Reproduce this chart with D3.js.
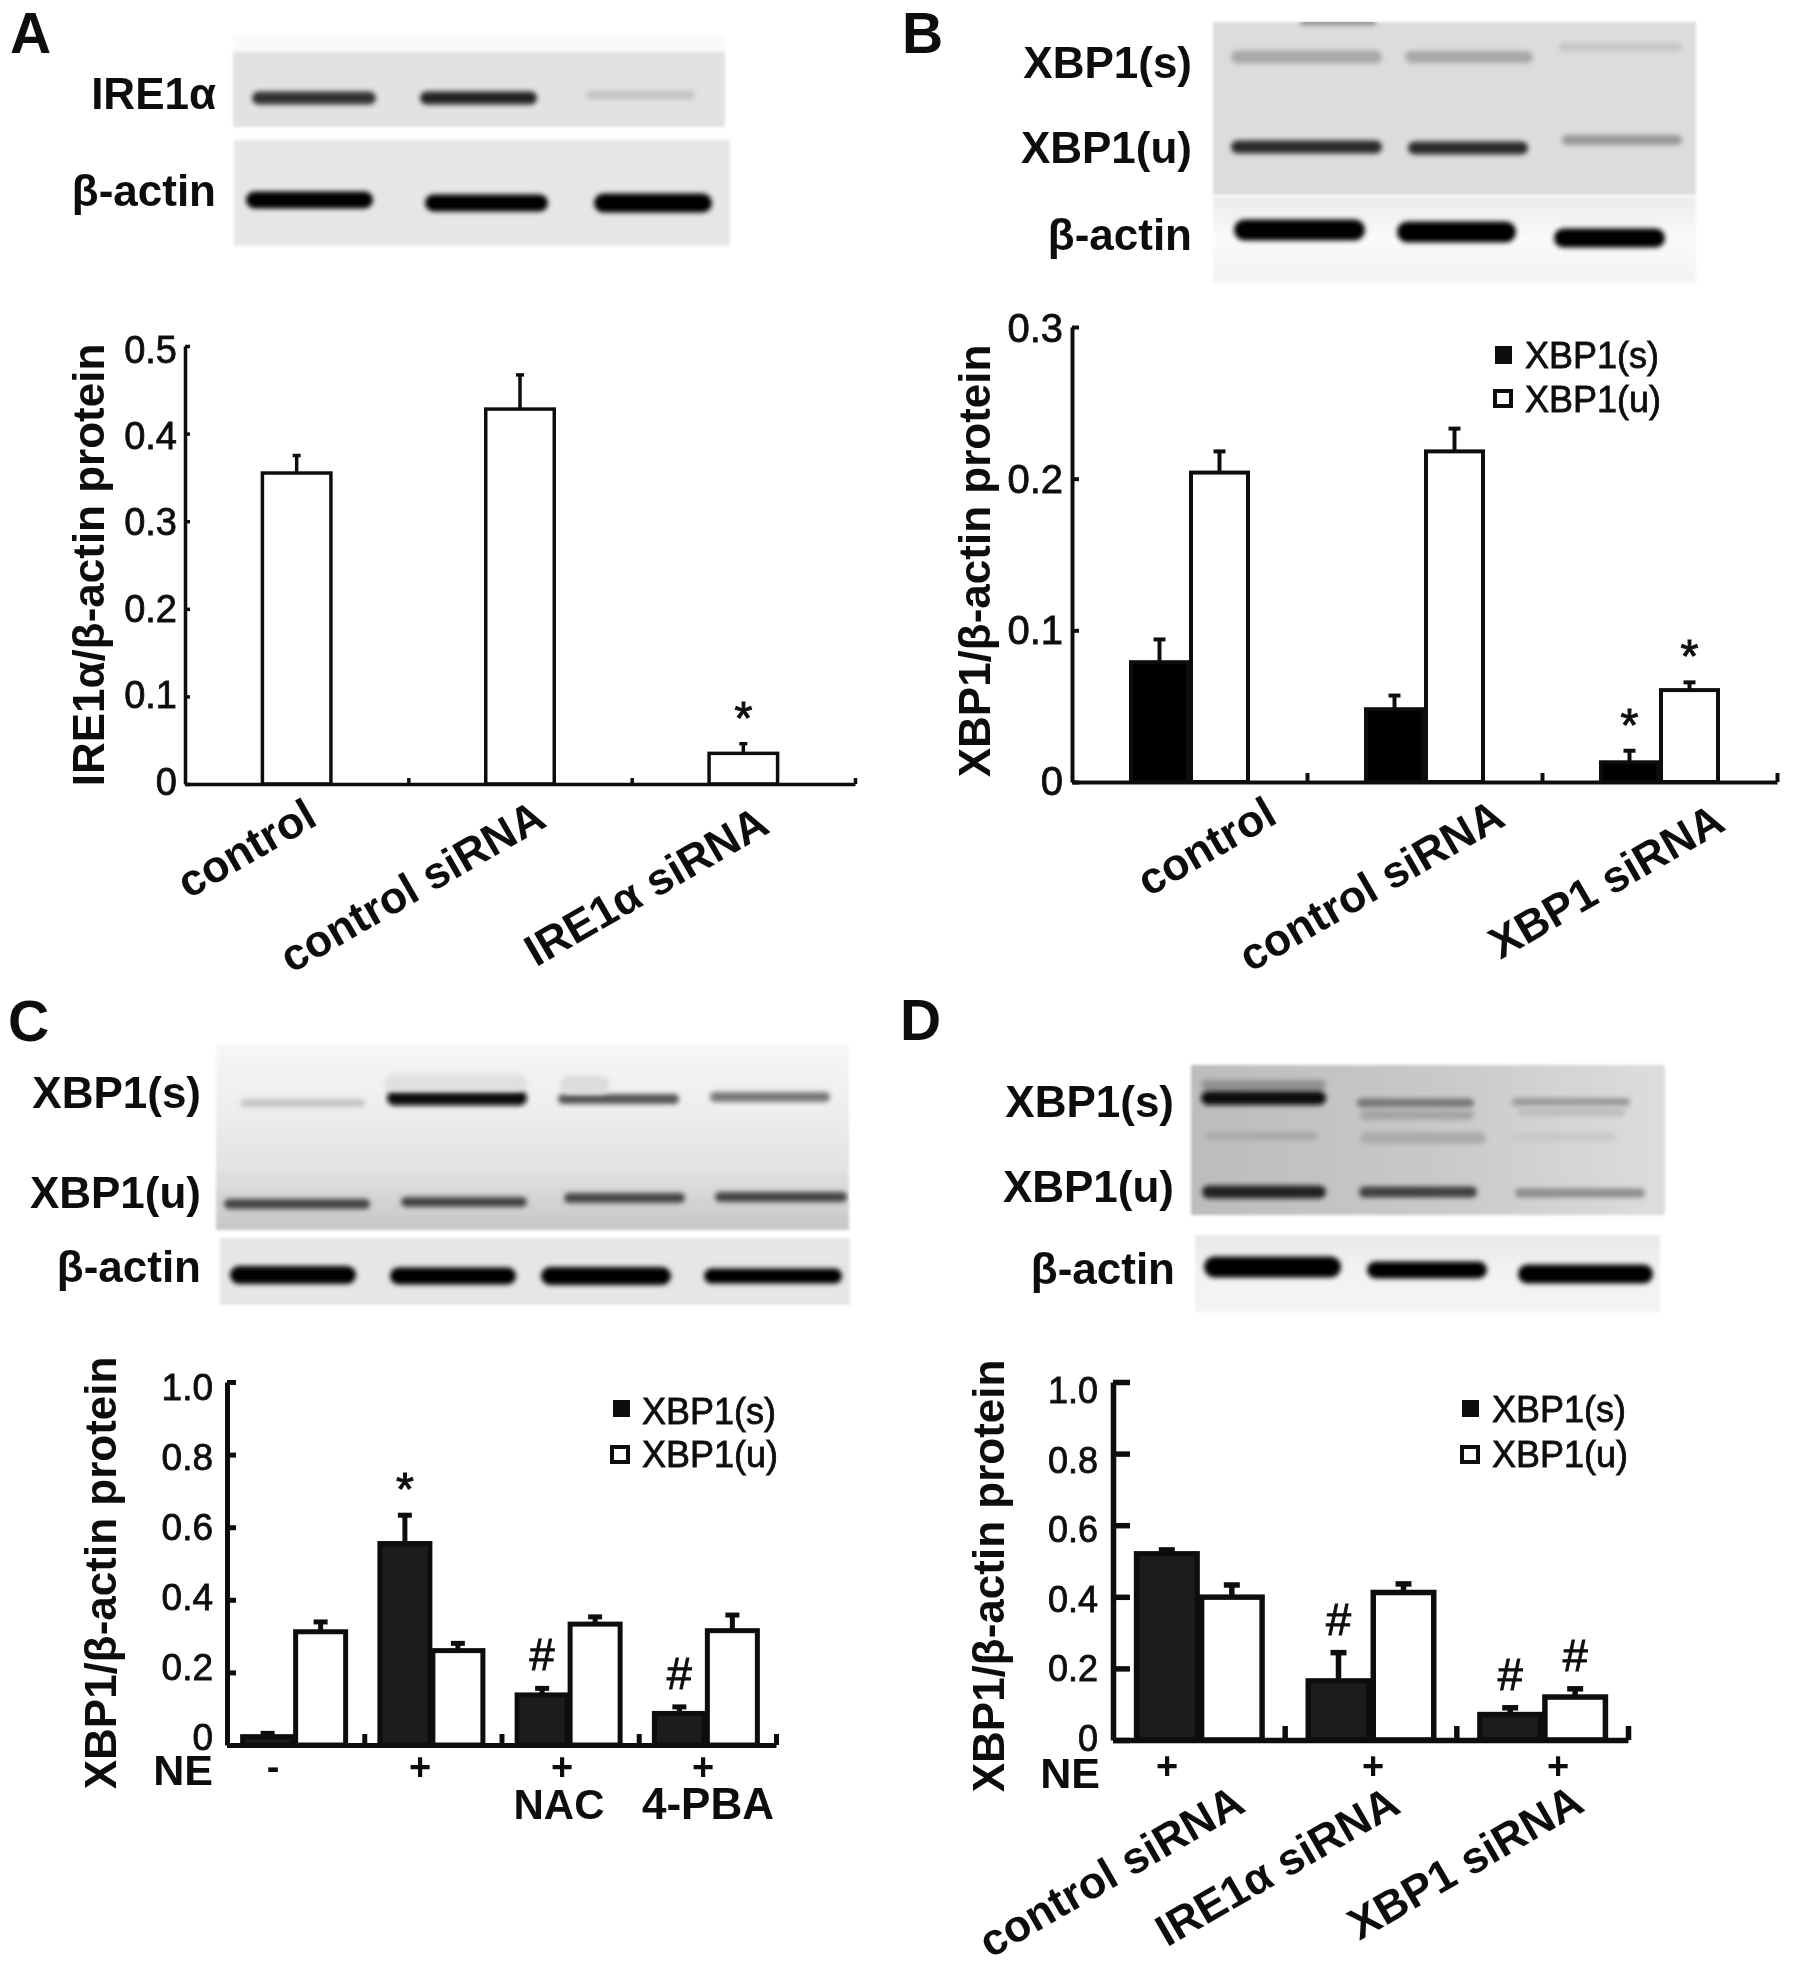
<!DOCTYPE html>
<html>
<head>
<meta charset="utf-8">
<title>XBP1 western blots</title>
<script src="https://cdn.jsdelivr.net/npm/d3@7"></script>
<style>
    html, body { margin: 0; padding: 0; background: #fff; }
    svg { display: block; }
    text { font-family: "Liberation Sans", Arial, sans-serif; fill: #111; }
</style>
</head>
<body>
<div id="chart"></div>
<script>
// Data
const categoriesA = ['control', 'control siRNA', 'IRE1α siRNA'];
const valuesA = [0.355, 0.428, 0.035];
const errorTopsA = [0.375, 0.467, 0.046];
const marksA = ['', '', '*'];
const tickValuesA = [0, 0.1, 0.2, 0.3, 0.4, 0.5];
const tickLabelsA = ['0', '0.1', '0.2', '0.3', '0.4', '0.5'];

const categoriesB = ['control', 'control siRNA', 'XBP1 siRNA'];
const spliceB = [0.079, 0.048, 0.013];
const spliceErrorTopsB = [0.094, 0.057, 0.0206];
const spliceMarksB = ['', '', '*'];
const unsplicedB = [0.204, 0.218, 0.0606];
const unsplicedErrorTopsB = [0.218, 0.233, 0.0657];
const unsplicedMarksB = ['', '', '*'];
const tickValuesB = [0, 0.1, 0.2, 0.3];
const tickLabelsB = ['0', '0.1', '0.2', '0.3'];

const categoriesC = ['-', '+', '+ NAC', '+ 4-PBA'];
const spliceC = [0.023, 0.555, 0.138, 0.087];
const spliceErrorTopsC = [0.032, 0.633, 0.156, 0.105];
const spliceMarksC = ['', '*', '#', '#'];
const unsplicedC = [0.312, 0.26, 0.333, 0.315];
const unsplicedErrorTopsC = [0.339, 0.28, 0.353, 0.358];
const unsplicedMarksC = ['', '', '', ''];

const categoriesD = ['control siRNA', 'IRE1α siRNA', 'XBP1 siRNA'];
const spliceD = [0.52, 0.165, 0.071];
const spliceErrorTopsD = [0.531, 0.244, 0.09];
const spliceMarksD = ['', '#', '#'];
const unsplicedD = [0.399, 0.412, 0.12];
const unsplicedErrorTopsD = [0.433, 0.436, 0.143];
const unsplicedMarksD = ['', '', '#'];
const tickValuesCD = [0, 0.2, 0.4, 0.6, 0.8, 1];
const tickLabelsCD = ['0', '0.2', '0.4', '0.6', '0.8', '1.0'];

const seriesNames = ['XBP1(s)', 'XBP1(u)'];

const svg = d3.select('#chart').append('svg')
    .attr('width', 1795)
    .attr('height', 1970);

const defs = svg.append('defs');
defs.append('filter').attr('id', 'soft')
    .attr('filterUnits', 'userSpaceOnUse')
    .attr('x', 0).attr('y', 0).attr('width', 1795).attr('height', 1970)
    .append('feGaussianBlur').attr('stdDeviation', 0.7);
defs.append('filter').attr('id', 'bandBlur')
    .attr('x', '-20%').attr('y', '-200%').attr('width', '140%').attr('height', '500%')
    .append('feGaussianBlur').attr('stdDeviation', 2.6);
defs.append('filter').attr('id', 'edgeBlur')
    .attr('x', '-5%').attr('y', '-20%').attr('width', '110%').attr('height', '140%')
    .append('feGaussianBlur').attr('stdDeviation', 1.5);

// top to bottom background of a blot
function addGradient(id, stops, horizontal) {
    const g = defs.append('linearGradient').attr('id', id)
        .attr('x1', 0).attr('y1', 0)
        .attr('x2', horizontal ? 1 : 0).attr('y2', horizontal ? 0 : 1);
    stops.forEach((c, i) => g.append('stop')
        .attr('offset', i / (stops.length - 1))
        .attr('stop-color', c));
}
addGradient('blotB2', ['#ececec', '#fafafa', '#f2f2f2']);
addGradient('blotC1', ['#f6f6f6', '#eeeeee', '#e2e2e2', '#c6c6c6']);
addGradient('blotD1', ['#bcbcbc', '#c8c8c8', '#dddddd'], true);
addGradient('blotD2', ['#e8e8e8', '#f3f3f3', '#f3f3f3']);

const root = svg.append('g').attr('filter', 'url(#soft)');

let clipCount = 0;
function drawBlot(blot) {
    clipCount += 1;
    const clipId = 'blotClip' + clipCount;
    defs.append('clipPath').attr('id', clipId)
        .append('rect')
        .attr('x', blot.x0).attr('y', blot.y0)
        .attr('width', blot.x1 - blot.x0).attr('height', blot.y1 - blot.y0);

    root.append('rect')
        .attr('x', blot.x0).attr('y', blot.y0)
        .attr('width', blot.x1 - blot.x0).attr('height', blot.y1 - blot.y0)
        .attr('fill', blot.fill)
        .attr('filter', 'url(#edgeBlur)');

    // the blur eats into a band, so it is drawn a bit thicker than it looks
    root.append('g').attr('clip-path', `url(#${clipId})`)
        .selectAll('rect')
        .data(blot.bands)
        .join('rect')
        .attr('x', d => d[0])
        .attr('width', d => d[1] - d[0])
        .attr('y', d => d[2] - (d[3] + 4) / 2)
        .attr('height', d => d[3] + 4)
        .attr('rx', d => (d[3] + 4) / 2)
        .attr('fill', d => d[4])
        .attr('filter', 'url(#bandBlur)');
}

function drawText(str, x, y, size, weight, anchor) {
    return root.append('text')
        .attr('x', x).attr('y', y)
        .attr('font-size', size)
        .attr('font-weight', weight || 'normal')
        .attr('text-anchor', anchor || 'start')
        .text(str);
}

function drawPanel(p) {
    const yScale = d3.scaleLinear().domain(p.domain).range([p.y0, p.yTop]);
    const labelY = d3.scaleLinear().domain(p.domain).range([p.label0, p.labelTop]);
    const xScale = d3.scaleBand().domain(p.categories).range([p.x0, p.x1]);
    const slot = d3.scaleLinear().domain([0, p.categories.length]).range([p.x0, p.x1]);

    // bars and error bars, one loop per series
    p.series.forEach((s, si) => {
        const barX = c => xScale(c) + xScale.bandwidth() / 2 + p.barOffsets[si];
        const g = root.append('g');
        const rows = p.categories.map((c, i) => ({
            c: c, v: s.values[i], top: s.tops[i], mark: s.marks[i]
        }));

        g.selectAll('.err').data(rows).join('line')
            .attr('x1', d => barX(d.c)).attr('x2', d => barX(d.c))
            .attr('y1', d => yScale(d.v)).attr('y2', d => yScale(d.top))
            .attr('stroke', '#111').attr('stroke-width', p.stroke);
        g.selectAll('.cap').data(rows).join('line')
            .attr('x1', d => barX(d.c) - p.cap / 2).attr('x2', d => barX(d.c) + p.cap / 2)
            .attr('y1', d => yScale(d.top)).attr('y2', d => yScale(d.top))
            .attr('stroke', '#111').attr('stroke-width', p.stroke);
        g.selectAll('.bar').data(rows).join('rect')
            .attr('x', d => barX(d.c) - (p.barWidth - p.stroke) / 2)
            .attr('width', p.barWidth - p.stroke)
            .attr('y', d => yScale(d.v))
            .attr('height', d => yScale(0) - yScale(d.v))
            .attr('fill', s.fill)
            .attr('stroke', '#111')
            .attr('stroke-width', p.stroke);

        rows.filter(d => d.mark).forEach(d => {
            const isStar = d.mark === '*';
            drawText(d.mark, barX(d.c), yScale(d.top) - 30 + (isStar ? 20 : 12), isStar ? 46 : 45, 'normal', 'middle')
                .attr('stroke', '#111').attr('stroke-width', 1);
        });
    });

    // y axis
    const yAxis = root.append('g')
        .attr('transform', `translate(${p.x0},0)`)
        .call(d3.axisLeft(yScale)
            .tickValues(p.tickValues)
            .tickSizeInner(-p.tickLength)
            .tickSizeOuter(0)
            .tickFormat(''));
    yAxis.selectAll('path, line').attr('stroke', '#111').attr('stroke-width', p.stroke);

    root.append('g').selectAll('text')
        .data(p.tickValues)
        .join('text')
        .attr('x', p.labelRight)
        .attr('y', d => labelY(d))
        .attr('dy', '0.36em')
        .attr('text-anchor', 'end')
        .attr('font-size', p.tickFont)
        .attr('stroke', '#111').attr('stroke-width', 0.8)
        .text((d, i) => p.tickLabels[i]);

    // x axis with ticks between the groups
    const xAxis = root.append('g')
        .attr('transform', `translate(0,${p.y0})`)
        .call(d3.axisBottom(slot)
            .tickValues(d3.range(1, p.categories.length + 1))
            .tickSizeInner(-p.xTickLength)
            .tickSizeOuter(0)
            .tickFormat(''));
    xAxis.selectAll('path, line').attr('stroke', '#111').attr('stroke-width', p.stroke);

    // y title
    root.append('text')
        .attr('transform', `translate(${p.titleX},${p.titleY}) rotate(-90)`)
        .attr('text-anchor', 'middle')
        .attr('font-size', 44)
        .attr('font-weight', 'bold')
        .text(p.title);

    // slanted category names
    if (p.slanted) {
        p.slanted.forEach((pos, i) => {
            root.append('text')
                .attr('transform', `translate(${pos[0]},${pos[1]}) rotate(-30)`)
                .attr('text-anchor', 'middle')
                .attr('dy', '0.35em')
                .attr('font-size', 44.5)
                .attr('font-weight', 'bold')
                .text(p.categories[i]);
        });
    }

    // legend
    if (p.legend) {
        const l = p.legend;
        root.append('rect')
            .attr('x', l.solid[0]).attr('y', l.solid[1])
            .attr('width', l.solid[2]).attr('height', l.solid[3])
            .attr('fill', '#111');
        root.append('rect')
            .attr('x', l.open[0] + 2).attr('y', l.open[1] + 2)
            .attr('width', l.open[2] - 4).attr('height', l.open[3] - 4)
            .attr('fill', '#fff')
            .attr('stroke', '#111')
            .attr('stroke-width', 4);
        seriesNames.forEach((name, i) => {
            drawText(name, l.textX, l.textY[i], 36, 'normal')
                .attr('dy', '0.36em')
                .attr('stroke', '#111').attr('stroke-width', 0.8);
        });
    }
}

// Panel A
drawBlot({ x0: 233, x1: 725, y0: 34, y1: 54, fill: '#fafafa', bands: [] });
drawBlot({
    x0: 233, x1: 725, y0: 52, y1: 127, fill: '#e2e2e2',
    bands: [[252, 376, 98, 9, '#333'], [420, 537, 98, 9, '#222'], [586, 695, 95, 5, '#c4c4c4']]
});
drawBlot({
    x0: 234, x1: 730, y0: 140, y1: 246, fill: '#e6e6e6',
    bands: [[246, 373, 200, 13, '#000'], [425, 548, 203, 13, '#000'], [594, 712, 203, 15, '#000']]
});
drawText('IRE1α', 216, 109, 44, 'bold', 'end');
drawText('β-actin', 216, 206, 44, 'bold', 'end');
drawText('A', 10, 53, 57, 'bold');

drawPanel({
    categories: categoriesA,
    series: [{ values: valuesA, tops: errorTopsA, marks: marksA, fill: '#fff' }],
    barOffsets: [0], barWidth: 72, cap: 8, stroke: 3.5,
    domain: [0, 0.5], x0: 185, x1: 855, y0: 784, yTop: 346,
    tickValues: tickValuesA, tickLabels: tickLabelsA, tickLength: 5, xTickLength: 6,
    tickFont: 38, labelRight: 177, label0: 781, labelTop: 349,
    title: 'IRE1α/β-actin protein', titleX: 104, titleY: 565,
    slanted: [[246, 848], [412, 886], [646, 886]]
});

// Panel B
drawBlot({
    x0: 1213, x1: 1696, y0: 22, y1: 195, fill: '#dcdcdc',
    bands: [[1231, 1382, 57, 9, '#a8a8a8'], [1405, 1533, 57, 8, '#a8a8a8'], [1559, 1682, 47, 5, '#c6c6c6'],
        [1231, 1382, 147, 9, '#2a2a2a'], [1408, 1528, 148, 9, '#2a2a2a'], [1562, 1682, 140, 6, '#989898'],
        [1300, 1376, 22, 2, '#888']]
});
drawBlot({
    x0: 1213, x1: 1696, y0: 197, y1: 283, fill: 'url(#blotB2)',
    bands: [[1234, 1365, 230, 17, '#000'], [1397, 1516, 232, 17, '#000'], [1554, 1665, 238, 15, '#000']]
});
drawText('XBP1(s)', 1192, 78, 44, 'bold', 'end');
drawText('XBP1(u)', 1192, 163, 44, 'bold', 'end');
drawText('β-actin', 1192, 250, 44, 'bold', 'end');
drawText('B', 902, 53, 57, 'bold');

drawPanel({
    categories: categoriesB,
    series: [
        { values: spliceB, tops: spliceErrorTopsB, marks: spliceMarksB, fill: '#000' },
        { values: unsplicedB, tops: unsplicedErrorTopsB, marks: unsplicedMarksB, fill: '#fff' }
    ],
    barOffsets: [-30, 30], barWidth: 61, cap: 12, stroke: 4,
    domain: [0, 0.3], x0: 1072, x1: 1777, y0: 782, yTop: 327,
    tickValues: tickValuesB, tickLabels: tickLabelsB, tickLength: 7, xTickLength: 9,
    tickFont: 40, labelRight: 1063, label0: 781, labelTop: 328,
    title: 'XBP1/β-actin protein', titleX: 990, titleY: 561,
    slanted: [[1206, 846], [1371, 885], [1606, 881]],
    legend: { solid: [1495, 346, 17, 18], open: [1493, 389, 20, 19], textX: 1525, textY: [355, 399] }
});

// Panel C
drawBlot({
    x0: 216, x1: 849, y0: 1045, y1: 1230, fill: 'url(#blotC1)',
    bands: [[241, 365, 1103, 4, '#c4c4c4'], [387, 527, 1098, 11, '#0a0a0a'], [558, 679, 1099, 6, '#555'], [710, 830, 1097, 6, '#777'],
        [224, 370, 1204, 6, '#444'], [401, 527, 1202, 6, '#444'], [564, 685, 1198, 6, '#444'], [715, 847, 1197, 6, '#444'],
        [385, 527, 1083, 14, '#e0e0e0'], [560, 610, 1085, 14, '#dcdcdc']]
});
drawBlot({
    x0: 220, x1: 850, y0: 1238, y1: 1305, fill: '#e6e6e6',
    bands: [[230, 356, 1275, 14, '#000'], [390, 516, 1276, 13, '#000'], [541, 671, 1276, 14, '#000'], [704, 842, 1276, 11, '#000']]
});
drawText('XBP1(s)', 201, 1108, 44, 'bold', 'end');
drawText('XBP1(u)', 201, 1208, 44, 'bold', 'end');
drawText('β-actin', 201, 1282, 44, 'bold', 'end');
drawText('C', 8, 1041, 57, 'bold');

drawPanel({
    categories: categoriesC,
    series: [
        { values: spliceC, tops: spliceErrorTopsC, marks: spliceMarksC, fill: '#1a1a1a' },
        { values: unsplicedC, tops: unsplicedErrorTopsC, marks: unsplicedMarksC, fill: '#fff' }
    ],
    barOffsets: [-28, 25], barWidth: 55, cap: 14, stroke: 5,
    domain: [0, 1], x0: 227, x1: 776, y0: 1745, yTop: 1382,
    tickValues: tickValuesCD, tickLabels: tickLabelsCD, tickLength: 9, xTickLength: 11,
    tickFont: 37, labelRight: 213, label0: 1737, labelTop: 1387,
    title: 'XBP1/β-actin protein', titleX: 116, titleY: 1573,
    legend: { solid: [613, 1400, 17, 17], open: [610, 1445, 20, 19], textX: 642, textY: [1411, 1454] }
});
drawText('NE', 213, 1785, 43, 'bold', 'end');
drawText('-', 273, 1780, 38, 'bold', 'middle');
drawText('+', 420, 1780, 38, 'bold', 'middle');
drawText('+', 562, 1780, 38, 'bold', 'middle');
drawText('+', 703, 1780, 38, 'bold', 'middle');
drawText('NAC', 559, 1819, 42, 'bold', 'middle');
drawText('4-PBA', 708, 1819, 44, 'bold', 'middle');

// Panel D
drawBlot({
    x0: 1191, x1: 1665, y0: 1065, y1: 1215, fill: 'url(#blotD1)',
    bands: [[1201, 1326, 1085, 6, '#909090'], [1201, 1326, 1098, 10, '#0a0a0a'],
        [1357, 1474, 1103, 5, '#777'], [1360, 1474, 1115, 6, '#a4a4a4'],
        [1512, 1630, 1102, 4, '#999'], [1518, 1625, 1112, 4, '#bcbcbc'],
        [1206, 1318, 1136, 4, '#a8a8a8'], [1360, 1486, 1138, 8, '#acacac'], [1510, 1615, 1137, 4, '#c8c8c8'],
        [1202, 1326, 1192, 9, '#202020'], [1359, 1477, 1192, 7, '#404040'], [1515, 1645, 1193, 5, '#8c8c8c']]
});
drawBlot({
    x0: 1195, x1: 1660, y0: 1235, y1: 1312, fill: 'url(#blotD2)',
    bands: [[1204, 1341, 1267, 17, '#000'], [1367, 1487, 1270, 13, '#000'], [1518, 1653, 1274, 15, '#000']]
});
drawText('XBP1(s)', 1174, 1117, 44, 'bold', 'end');
drawText('XBP1(u)', 1174, 1202, 44, 'bold', 'end');
drawText('β-actin', 1175, 1284, 44, 'bold', 'end');
drawText('D', 900, 1040, 57, 'bold');

drawPanel({
    categories: categoriesD,
    series: [
        { values: spliceD, tops: spliceErrorTopsD, marks: spliceMarksD, fill: '#1a1a1a' },
        { values: unsplicedD, tops: unsplicedErrorTopsD, marks: unsplicedMarksD, fill: '#fff' }
    ],
    barOffsets: [-32, 33], barWidth: 66, cap: 16, stroke: 5.5,
    domain: [0, 1], x0: 1113, x1: 1628, y0: 1740, yTop: 1382,
    tickValues: tickValuesCD, tickLabels: tickLabelsCD, tickLength: 17, xTickLength: 14,
    tickFont: 36, labelRight: 1098, label0: 1738, labelTop: 1390,
    title: 'XBP1/β-actin protein', titleX: 1004, titleY: 1576,
    slanted: [[1111, 1871], [1277, 1866], [1465, 1862]],
    legend: { solid: [1462, 1400, 17, 17], open: [1460, 1445, 20, 19], textX: 1492, textY: [1409, 1454] }
});
drawText('NE', 1100, 1788, 43, 'bold', 'end');
drawText('+', 1167, 1779, 38, 'bold', 'middle');
drawText('+', 1373, 1779, 38, 'bold', 'middle');
drawText('+', 1558, 1779, 38, 'bold', 'middle');
</script>
</body>
</html>
